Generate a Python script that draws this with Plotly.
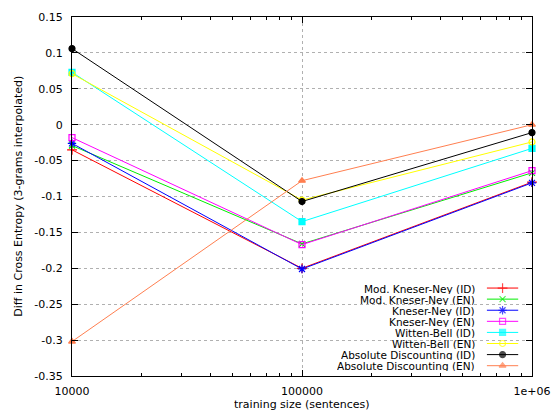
import plotly.graph_objects as go

sizes = [10000, 100000, 1000000]
x_tick_vals = [10000, 100000, 1000000]
x_tick_text = ["10000", "100000", "1e+06"]
x_minor_vals = [20000, 30000, 40000, 50000, 60000, 70000, 80000, 90000,
                200000, 300000, 400000, 500000, 600000, 700000, 800000, 900000]
y_tick_vals = [0.15, 0.1, 0.05, 0, -0.05, -0.1, -0.15, -0.2, -0.25, -0.3, -0.35]
y_tick_text = ["0.15", "0.1", "0.05", "0", "-0.05", "-0.1", "-0.15", "-0.2", "-0.25", "-0.3", "-0.35"]

names = ["Mod. Kneser-Ney (ID)", "Mod. Kneser-Ney (EN)", "Kneser-Ney (ID)", "Kneser-Ney (EN)",
         "Witten-Bell (ID)", "Witten-Bell (EN)", "Absolute Discounting (ID)", "Absolute Discounting (EN)"]
mkn_id = [-0.035, -0.200, -0.080]
mkn_en = [-0.029, -0.166, -0.067]
kn_id = [-0.026, -0.201, -0.081]
kn_en = [-0.018, -0.167, -0.064]
wb_id = [0.073, -0.135, -0.033]
wb_en = [0.071, -0.105, -0.024]
ad_id = [0.106, -0.107, -0.011]
ad_en = [-0.302, -0.078, 0.000]
series = [mkn_id, mkn_en, kn_id, kn_en, wb_id, wb_en, ad_id, ad_en]

colors = ["#ff0000", "#00ee00", "#0000ff", "#ff00ff", "#00ffff", "#ffff00", "#000000", "#ff7f50"]
symbols = ["cross-thin-open", "x-thin-open", "asterisk-open", "square-open",
           "square", "circle-open", "circle", "triangle-up"]
msizes = [7, 6, 7, 6, 6, 6, 6, 6]

FONT = "DejaVu Sans"
fig = go.Figure()

for vals, name, c, s, ms in zip(series, names, colors, symbols, msizes):
    fig.add_trace(go.Scatter(
        x=sizes, y=vals, name=name, mode="lines+markers",
        line=dict(color=c, width=1),
        marker=dict(symbol=s, size=ms, color=c, line=dict(color=c, width=1.2)),
        cliponaxis=False, showlegend=False))

# custom gnuplot-style legend (text right, sample left->right)
y0 = 0.245
step = 0.0309
for i, (name, c, s, ms) in enumerate(zip(names, colors, symbols, msizes)):
    yy = y0 - i * step
    fig.add_annotation(x=0.880, y=yy, xref="paper", yref="paper", text=name,
                       showarrow=False, xanchor="right", yanchor="middle", height=11,
                       font=dict(family=FONT, size=10.5, color="#000000"))
    fig.add_trace(go.Scatter(
        x=[0.902, 0.936, 0.970], y=[yy, yy, yy], xaxis="x2", yaxis="y2",
        mode="lines+markers", line=dict(color=c, width=1),
        marker=dict(symbol=s, size=[0, ms, 0], color=c, line=dict(color=c, width=1.2)),
        showlegend=False, hoverinfo="skip", cliponaxis=False))

fig.add_annotation(x=0.5, y=-0.079, xref="paper", yref="paper", text="training size (sentences)",
                   showarrow=False, xanchor="center", yanchor="middle", height=11,
                   font=dict(family=FONT, size=11, color="#000000"))
fig.add_annotation(x=-0.117, y=0.5, xref="paper", yref="paper",
                   text="Diff in Cross Entropy (3-grams interpolated)", textangle=-90,
                   showarrow=False, xanchor="center", yanchor="middle",
                   font=dict(family=FONT, size=11, color="#000000"))

fig.update_layout(
    width=552, height=410,
    margin=dict(l=72, r=20, t=17, b=34, autoexpand=False),
    paper_bgcolor="white", plot_bgcolor="white",
    font=dict(family=FONT, size=11, color="#000000"),
    showlegend=False,
    xaxis=dict(type="log", range=[4, 6], tickmode="array", tickvals=x_tick_vals, ticktext=x_tick_text,
               ticks="inside", ticklen=6, tickcolor="#000000", showline=True, linecolor="#000000",
               linewidth=1, mirror="ticks", showgrid=True, gridcolor="#b0b0b0", griddash="dot",
               gridwidth=1, zeroline=False, ticklabelstandoff=5, automargin=False,
               minor=dict(tickmode="array", tickvals=x_minor_vals, ticks="inside", ticklen=3,
                          tickcolor="#000000", showgrid=False)),
    yaxis=dict(range=[-0.35, 0.15], tickmode="array", tickvals=y_tick_vals, ticktext=y_tick_text,
               ticks="inside", ticklen=6, tickcolor="#000000", showline=True, linecolor="#000000",
               linewidth=1, mirror="ticks", showgrid=True, gridcolor="#b0b0b0", griddash="dot",
               gridwidth=1, zeroline=False, ticklabelstandoff=6, automargin=False),
    xaxis2=dict(range=[0, 1], overlaying="x", visible=False, fixedrange=True),
    yaxis2=dict(range=[0, 1], overlaying="y", visible=False, fixedrange=True),
)

fig.write_html("out.html", config={"displayModeBar": False},
               post_script="document.body.style.margin='0';document.body.style.overflow='hidden';")
